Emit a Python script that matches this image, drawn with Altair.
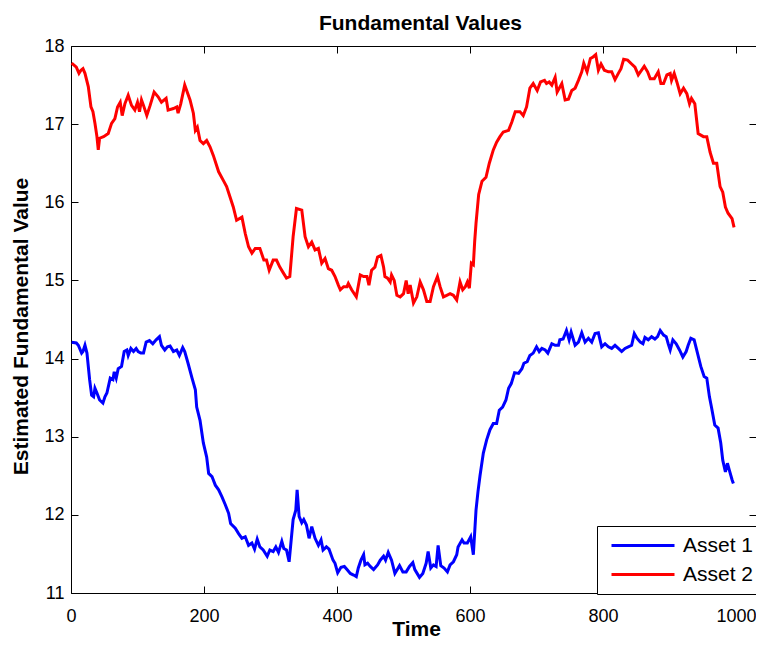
import altair as alt
import pandas as pd

title_text = "Fundamental Values"
x_title = "Time"
y_title = "Estimated Fundamental Value"
series_names = ["Asset 1", "Asset 2"]
series_colors = ["#0000ff", "#ff0000"]
x_ticks = [0, 200, 400, 600, 800, 1000]
y_ticks = [11, 12, 13, 14, 15, 16, 17, 18]
x_domain = [0, 1030]
y_domain = [11, 18]

t_asset1 = [1, 8, 11, 16, 18, 21, 24, 28, 31, 34, 36, 39, 43, 48, 51, 54, 59, 63, 65, 68,
            71, 76, 80, 84, 86, 90, 94, 98, 101, 105, 109, 113, 118, 123, 128, 133, 136, 141, 145, 149,
            154, 159, 163, 168, 171, 176, 182, 187, 189, 194, 199, 204, 207, 212, 217, 222, 227, 232, 237, 240,
            247, 252, 257, 262, 267, 272, 276, 280, 284, 289, 295, 299, 304, 308, 312, 317, 320, 324, 328, 334,
            338, 340, 343, 347, 350, 354, 358, 362, 367, 372, 376, 379, 384, 388, 394, 397, 401, 406, 411, 415,
            420, 425, 429, 432, 436, 440, 442, 446, 450, 455, 461, 465, 470, 473, 477, 482, 487, 494, 499, 504,
            509, 514, 517, 524, 529, 534, 537, 541, 545, 549, 552, 556, 561, 566, 570, 575, 580, 582, 588, 591,
            596, 601, 605, 609, 612, 615, 620, 625, 630, 635, 640, 644, 649, 654, 658, 662, 667, 673, 678, 681,
            686, 690, 695, 700, 704, 708, 713, 717, 720, 723, 728, 733, 735, 740, 745, 749, 752, 758, 763, 768,
            773, 778, 783, 788, 793, 798, 803, 808, 813, 818, 823, 828, 833, 838, 843, 847, 851, 856, 860, 863,
            868, 873, 878, 882, 886, 891, 895, 898, 901, 905, 910, 915, 920, 925, 928, 932, 937, 942, 947, 952,
            956, 960, 963, 968, 973, 977, 980, 984, 987, 990, 994, 996]
v_asset1 = [14.21, 14.20, 14.17, 14.07, 14.09, 14.17, 14.07, 13.73, 13.53, 13.51, 13.62, 13.56, 13.47, 13.43, 13.51, 13.56, 13.75, 13.73, 13.83, 13.75,
            13.87, 13.90, 14.09, 14.11, 14.04, 14.13, 14.09, 14.13, 14.09, 14.07, 14.07, 14.21, 14.23, 14.19, 14.24, 14.28, 14.17, 14.11, 14.15, 14.16,
            14.09, 14.11, 14.04, 14.14, 14.09, 13.94, 13.75, 13.60, 13.38, 13.21, 12.92, 12.74, 12.53, 12.49, 12.38, 12.32, 12.23, 12.13, 12.02, 11.89,
            11.83, 11.76, 11.70, 11.72, 11.61, 11.64, 11.56, 11.69, 11.59, 11.55, 11.47, 11.55, 11.53, 11.59, 11.52, 11.66, 11.57, 11.55, 11.40, 11.94,
            12.06, 12.32, 11.98, 11.90, 11.94, 11.87, 11.70, 11.85, 11.70, 11.61, 11.68, 11.55, 11.59, 11.56, 11.42, 11.38, 11.26, 11.33, 11.34, 11.30,
            11.25, 11.23, 11.21, 11.32, 11.42, 11.49, 11.36, 11.38, 11.34, 11.30, 11.36, 11.42, 11.47, 11.42, 11.52, 11.42, 11.25, 11.35, 11.27, 11.27,
            11.34, 11.39, 11.30, 11.20, 11.25, 11.38, 11.53, 11.32, 11.36, 11.34, 11.61, 11.35, 11.32, 11.27, 11.36, 11.40, 11.49, 11.59, 11.68, 11.64,
            11.64, 11.72, 11.49, 12.06, 12.30, 12.50, 12.79, 12.96, 13.09, 13.17, 13.17, 13.34, 13.38, 13.47, 13.62, 13.68, 13.82, 13.81, 13.87, 13.94,
            13.96, 14.04, 14.07, 14.15, 14.09, 14.13, 14.11, 14.07, 14.13, 14.19, 14.17, 14.17, 14.24, 14.25, 14.36, 14.24, 14.34, 14.17, 14.21, 14.33,
            14.21, 14.26, 14.21, 14.32, 14.33, 14.15, 14.19, 14.15, 14.13, 14.17, 14.13, 14.09, 14.13, 14.15, 14.17, 14.32, 14.26, 14.21, 14.19, 14.27,
            14.24, 14.28, 14.25, 14.28, 14.36, 14.30, 14.28, 14.19, 14.11, 14.24, 14.19, 14.11, 14.02, 14.09, 14.17, 14.26, 14.24, 14.07, 13.90, 13.77,
            13.75, 13.51, 13.38, 13.15, 13.11, 12.92, 12.70, 12.55, 12.66, 12.57, 12.45, 12.40]

t_asset2 = [1, 8, 12, 15, 18, 21, 26, 30, 33, 36, 39, 41, 43, 49, 56, 61, 66, 70, 74, 77,
            81, 86, 91, 96, 100, 103, 106, 109, 114, 119, 125, 131, 136, 143, 146, 154, 159, 161, 165, 171,
            179, 184, 187, 190, 194, 199, 204, 209, 214, 222, 229, 234, 239, 244, 249, 257, 262, 267, 272, 277,
            284, 290, 294, 298, 304, 309, 314, 319, 324, 329, 334, 339, 347, 352, 357, 362, 367, 372, 377, 382,
            387, 392, 397, 402, 405, 410, 415, 417, 422, 429, 435, 440, 445, 448, 452, 457, 461, 466, 470, 472,
            476, 480, 482, 486, 490, 495, 500, 504, 507, 510, 515, 520, 525, 530, 535, 540, 545, 551, 555, 560,
            565, 570, 575, 580, 585, 589, 593, 596, 599, 602, 605, 607, 609, 613, 618, 624, 629, 635, 640, 645,
            650, 658, 663, 668, 675, 680, 685, 690, 695, 701, 706, 712, 715, 719, 723, 728, 731, 738, 743, 748,
            753, 758, 763, 768, 771, 776, 781, 785, 789, 793, 797, 802, 808, 813, 818, 823, 827, 831, 837, 843,
            848, 853, 858, 862, 867, 871, 877, 883, 887, 891, 896, 901, 903, 907, 911, 916, 921, 926, 930, 933,
            938, 943, 951, 956, 961, 966, 971, 976, 980, 984, 988, 994, 997]
v_asset2 = [17.78, 17.73, 17.65, 17.69, 17.71, 17.65, 17.48, 17.22, 17.16, 17.01, 16.84, 16.67, 16.82, 16.84, 16.88, 17.01, 17.07, 17.22, 17.28, 17.11,
            17.26, 17.37, 17.24, 17.18, 17.28, 17.16, 17.31, 17.24, 17.11, 17.24, 17.41, 17.35, 17.28, 17.33, 17.18, 17.20, 17.22, 17.14, 17.26, 17.50,
            17.31, 17.14, 16.92, 16.96, 16.79, 16.75, 16.79, 16.71, 16.60, 16.39, 16.28, 16.20, 16.07, 15.94, 15.77, 15.81, 15.60, 15.43, 15.35, 15.41,
            15.41, 15.26, 15.26, 15.13, 15.26, 15.26, 15.17, 15.10, 15.03, 15.05, 15.56, 15.92, 15.90, 15.56, 15.43, 15.49, 15.39, 15.41, 15.22, 15.28,
            15.15, 15.13, 15.05, 14.94, 14.88, 14.92, 14.92, 14.96, 14.88, 14.79, 15.07, 15.05, 15.05, 14.94, 15.13, 15.17, 15.30, 15.32, 15.17, 15.05,
            15.03, 14.98, 15.07, 15.00, 14.81, 14.79, 14.83, 15.00, 14.83, 14.94, 14.71, 14.79, 14.98, 14.88, 14.73, 14.73, 14.92, 15.05, 14.92, 14.79,
            14.81, 14.83, 14.81, 14.75, 14.98, 14.88, 14.92, 14.98, 14.90, 15.22, 15.20, 15.50, 15.73, 16.10, 16.27, 16.32, 16.50, 16.67, 16.77, 16.84,
            16.90, 16.92, 17.03, 17.16, 17.16, 17.11, 17.22, 17.46, 17.52, 17.43, 17.54, 17.56, 17.52, 17.54, 17.50, 17.60, 17.41, 17.52, 17.31, 17.32,
            17.43, 17.46, 17.56, 17.67, 17.78, 17.67, 17.84, 17.86, 17.89, 17.69, 17.77, 17.69, 17.67, 17.67, 17.57, 17.65, 17.71, 17.83, 17.82, 17.77,
            17.73, 17.63, 17.69, 17.74, 17.67, 17.58, 17.58, 17.67, 17.52, 17.52, 17.63, 17.65, 17.56, 17.65, 17.54, 17.39, 17.46, 17.39, 17.26, 17.33,
            17.26, 16.88, 16.84, 16.84, 16.64, 16.50, 16.50, 16.20, 16.13, 15.94, 15.86, 15.79, 15.68]

df = pd.DataFrame({
    "t": t_asset1 + t_asset2,
    "v": v_asset1 + v_asset2,
    "series": [series_names[0]] * len(t_asset1) + [series_names[1]] * len(t_asset2),
})

FONT = "Liberation Sans, Arial, Helvetica, sans-serif"
INWARD = alt.ExprRef(expr="-7")

axis_common = dict(
    grid=False, domainColor="black", domainWidth=1, tickColor="black", tickWidth=1,
    tickSize=INWARD, labelFont=FONT, labelFontSize=18, labelColor="black",
    labelFlush=False, labelOverlap=False, format="d", minExtent=0,
)
title_style = dict(titleFont=FONT, titleFontSize=21, titleFontWeight="bold", titleColor="black",
                   titleBaseline="alphabetic")

x_scale = alt.Scale(domain=x_domain, nice=False, zero=False)
y_scale = alt.Scale(domain=y_domain, nice=False, zero=False)

lines = alt.Chart(df).mark_line(strokeWidth=3).encode(
    x=alt.X("t:Q", scale=x_scale, axis=alt.Axis(
        orient="bottom", values=x_ticks, title=x_title, labelPadding=21,
        titleY=42, titleX=345, **title_style, **axis_common)),
    y=alt.Y("v:Q", scale=y_scale, axis=alt.Axis(
        orient="left", values=y_ticks, title=y_title, labelPadding=14,
        titleX=-44, titleY=280, **title_style, **axis_common)),
    color=alt.Color("series:N", scale=alt.Scale(domain=series_names, range=series_colors),
                    legend=alt.Legend(
                        title=None, orient="none", legendX=526, legendY=480, direction="vertical",
                        symbolType="stroke", symbolSize=3969, symbolStrokeWidth=3, symbolOffset=7,
                        clipHeight=27, rowPadding=2, padding=6, labelOffset=7,
                        labelFont=FONT, labelFontSize=21, labelColor="black", labelLimit=0,
                        strokeColor="black", fillColor="white", cornerRadius=0)),
)

# top and right axes close the box; the top axis carries the chart title
frame = alt.Chart(df).mark_line(opacity=0).encode(
    x=alt.X("t:Q", scale=x_scale, axis=alt.Axis(
        orient="top", values=x_ticks, title=title_text, labels=False,
        titleX=349, titleY=-17, **title_style, **axis_common)),
    y=alt.Y("v:Q", scale=y_scale, axis=alt.Axis(
        orient="right", values=y_ticks, title=None, labels=False, **axis_common)),
    detail="series:N",
)

chart = alt.layer(lines, frame).resolve_axis(x="independent", y="independent").properties(
    width=685, height=547,
    padding={"left": 63, "top": 38, "right": 0, "bottom": 46},
    autosize=alt.AutoSizeParams(type="none"),
).configure_view(strokeWidth=0).configure(background="white")

chart.save("out.html", embed_options={"renderer": "svg", "actions": False})
